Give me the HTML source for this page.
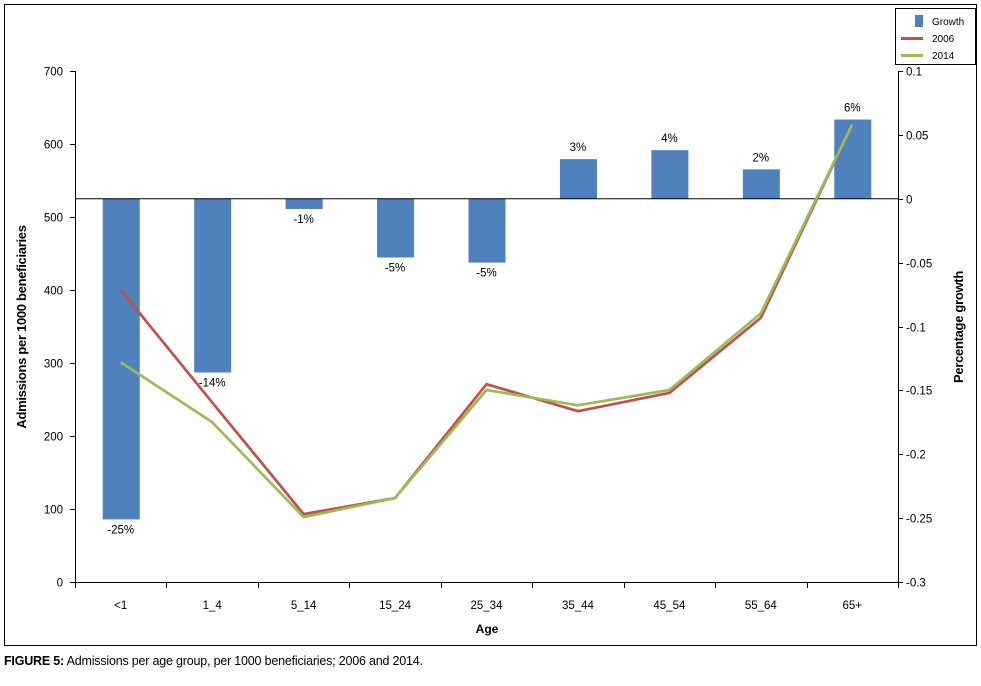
<!DOCTYPE html>
<html><head><meta charset="utf-8"><style>
body{margin:0;background:#fff;font-family:"Liberation Sans Narrow","Liberation Sans",sans-serif;}
svg text{font-family:"Liberation Sans Narrow","Liberation Sans",sans-serif;}
</style></head><body>
<svg id="c" width="981" height="681" xmlns="http://www.w3.org/2000/svg">
<rect x="4.5" y="4.5" width="972" height="641" fill="#fff" stroke="#000"/>
<g>
<rect x="895.5" y="8.5" width="80" height="56" fill="#fff" stroke="#000"/>
<rect x="915" y="15" width="8" height="12" fill="#4f81bd"/>
<text x="932" y="25" font-size="10">Growth</text>
<rect x="901" y="37" width="22" height="3" fill="#c0504d"/>
<text x="932" y="42" font-size="10">2006</text>
<rect x="901" y="54" width="22" height="3" fill="#9bbb59"/>
<text x="932" y="59" font-size="10">2014</text>
</g>
<text transform="translate(26,327) rotate(-90)" text-anchor="middle" font-size="13" font-weight="bold" letter-spacing="-0.3">Admissions per 1000 beneficiaries</text>
<text transform="translate(963,327) rotate(-90)" text-anchor="middle" font-size="13" font-weight="bold" letter-spacing="-0.3">Percentage growth</text>
<text x="487" y="633" text-anchor="middle" font-size="12" font-weight="bold">Age</text>
<text x="4" y="665" font-size="12.5" letter-spacing="-0.2"><tspan font-weight="bold">FIGURE 5:</tspan> Admissions per age group, per 1000 beneficiaries; 2006 and 2014.</text>
<g id="g"></g>
</svg>
<script>
const categories=["<1","1_4","5_14","15_24","25_34","35_44","45_54","55_64","65+"];
const growth=[-0.251,-0.136,-0.008,-0.046,-0.050,0.031,0.038,0.023,0.062];
const growthLabels=["-25%","-14%","-1%","-5%","-5%","3%","4%","2%","6%"];
const s2006=[400,246,93,115,271,234,259,362,627];
const s2014=[301,219,89,115,263,242,263,368,627];
const leftTicks=[0,100,200,300,400,500,600,700];
const rightTicks=[0.1,0.05,0,-0.05,-0.1,-0.15,-0.2,-0.25,-0.3];
const X0=75,X1=898,Y0=582,Y1=71;
const band=(X1-X0)/categories.length;
const xc=i=>X0+band*(i+0.5);
const yL=v=>Y0-(v/700)*(Y0-Y1);
const yR=v=>Y0-((v+0.3)/0.4)*(Y0-Y1);
const g=document.getElementById('g');const NS="http://www.w3.org/2000/svg";
function mk(t,a,txt){const e=document.createElementNS(NS,t);for(const k in a)e.setAttribute(k,a[k]);if(txt!==undefined)e.textContent=txt;g.appendChild(e);return e;}
growth.forEach((v,i)=>{const y0=yR(0),y=yR(v);
const r=mk('rect',{x:xc(i)-18,y:Math.min(y0,y),width:37,height:Math.abs(y-y0),fill:'#4f81bd'});


const ly=v<0?y+14:y-8;
const t=mk('text',{x:xc(i),y:ly,'text-anchor':'middle','font-size':11.5},growthLabels[i]);

});
const z=mk('line',{x1:X0,x2:X1,y1:yR(0),y2:yR(0),stroke:'#000'});


const ax=mk('path',{d:`M${X0+.5},${Y1}V${Y0+.5}H${X1}M${X1+.5},${Y1}V${Y0+6}`,stroke:'#000',fill:'none'});


leftTicks.forEach(v=>{const y=Math.round(yL(v))+.5;mk('line',{x1:X0-5,x2:X0,y1:y,y2:y,stroke:'#000'});
const t=mk('text',{x:X0-12,y:y+4,'text-anchor':'end','font-size':11.5},String(v));

});
rightTicks.forEach(v=>{const y=Math.round(yR(v))+.5;mk('line',{x1:X1,x2:X1+5,y1:y,y2:y,stroke:'#000'});
const t=mk('text',{x:X1+8,y:y+4,'font-size':11.5},String(v));

});
categories.forEach((c,i)=>{const x=Math.round(X0+band*i)+.5;mk('line',{x1:x,x2:x,y1:Y0,y2:Y0+6,stroke:'#000'});
const t=mk('text',{x:xc(i),y:609,'text-anchor':'middle','font-size':11.5},c);

});
function line(arr,col,name){const d=arr.map((v,i)=>(i?'L':'M')+xc(i)+','+yL(v)).join('');
const p=mk('path',{d,stroke:col,'stroke-width':2.7,fill:'none','stroke-linejoin':'round'});

}
line(s2006,'#c0504d','line-2006');
line(s2014,'#9bbb59','line-2014');
</script>
</body></html>
